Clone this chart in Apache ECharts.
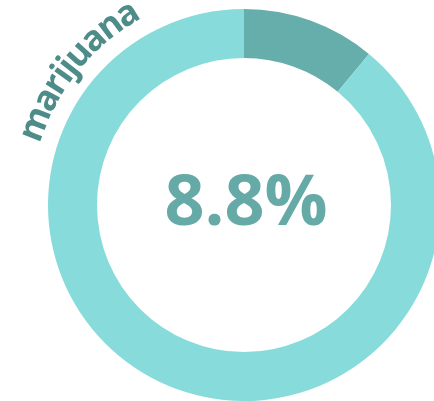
<!DOCTYPE html>
<html><head><meta charset="utf-8">
<script src="https://cdn.jsdelivr.net/npm/echarts@6/dist/echarts.min.js"></script>
<style>html,body{margin:0;padding:0;background:#fff}#c{width:434px;height:401px}</style>
</head><body><div id="c"></div>
<script>
const categories = ['marijuana', 'other'];
const values = [8.8, 71.2];
const centerLabel = '8.8%';
const arcLabel = 'marijuana';

const chart = echarts.init(document.getElementById('c'), null, {renderer:'canvas'});
const cx = 244, cy = 205;
const labelFont = 'bold 35px "Open Sans"';
const cv = document.createElement('canvas').getContext('2d');
cv.font = labelFont;
const rText = 223;
let phi = 73 * Math.PI / 180;
const letters = [];
for (const ch of arcLabel) {
  const w = cv.measureText(ch).width - 1;
  phi -= (w / 2) / rText;
  letters.push({
    type: 'text',
    x: cx - rText * Math.sin(phi),
    y: cy - rText * Math.cos(phi),
    rotation: phi,
    style: { text: ch, font: labelFont, fill: '#4e8c89', align: 'center', verticalAlign: 'middle' }
  });
  phi -= (w / 2) / rText;
}
chart.setOption({
  animation: false,
  series: [{
    type: 'pie',
    center: [cx, cy],
    radius: [147, 196],
    startAngle: 90,
    clockwise: true,
    silent: true,
    label: { show: false },
    labelLine: { show: false },
    data: categories.map((c, i) => ({ name: c, value: values[i],
      itemStyle: { color: i === 0 ? '#66aeac' : '#87dcdb' } }))
  }],
  graphic: [{
    type: 'text', x: cx + 2, y: cy,
    style: { text: centerLabel, font: 'bold 70px "Open Sans"', fill: '#66aaa8', align: 'center', verticalAlign: 'middle' }
  }].concat(letters)
});
</script></body></html>
